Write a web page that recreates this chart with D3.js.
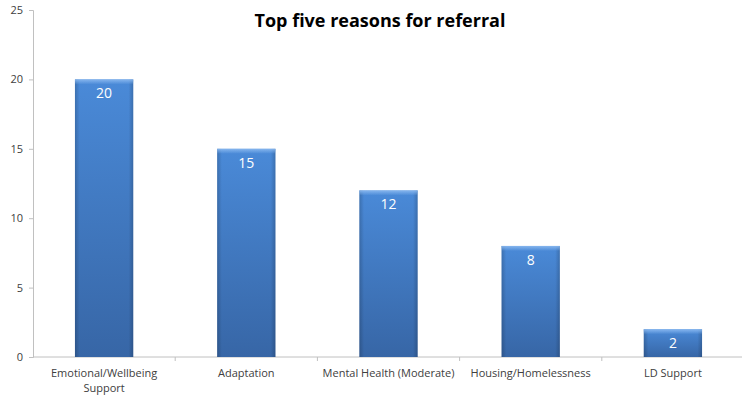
<!DOCTYPE html>
<html>
<head>
<meta charset="utf-8">
<script src="https://cdn.jsdelivr.net/npm/d3@7"></script>
<style>
  body { margin: 0; background: #fff; }
  text { font-family: "Open Sans", "Noto Sans", sans-serif; }
</style>
</head>
<body>
<div id="chart"></div>
<script>
const categories = [
  "Emotional/Wellbeing Support",
  "Adaptation",
  "Mental Health (Moderate)",
  "Housing/Homelessness",
  "LD Support"
];
const values = [20, 15, 12, 8, 2];
const yTicks = [0, 5, 10, 15, 20, 25];
const title = "Top five reasons for referral";

const width = 742, height = 396;
const margin = { top: 10, right: 0, bottom: 39, left: 33 };

const svg = d3.select("#chart").append("svg")
  .attr("width", width)
  .attr("height", height);

const defs = svg.append("defs");
const grad = defs.append("linearGradient")
  .attr("id", "barGrad").attr("x1", 0).attr("y1", 0).attr("x2", 0).attr("y2", 1);
grad.append("stop").attr("offset", "0%").attr("stop-color", "#4a8ad8");
grad.append("stop").attr("offset", "100%").attr("stop-color", "#3766a6");

const side = defs.append("linearGradient")
  .attr("id", "sideGrad").attr("x1", 0).attr("y1", 0).attr("x2", 1).attr("y2", 0);
side.append("stop").attr("offset", "0%").attr("stop-color", "#000").attr("stop-opacity", 0.18);
side.append("stop").attr("offset", "8%").attr("stop-color", "#000").attr("stop-opacity", 0);
side.append("stop").attr("offset", "92%").attr("stop-color", "#000").attr("stop-opacity", 0);
side.append("stop").attr("offset", "100%").attr("stop-color", "#000").attr("stop-opacity", 0.18);

// soft bevel on the top edge
const bevel = defs.append("linearGradient")
  .attr("id", "bevelGrad").attr("x1", 0).attr("y1", 0).attr("x2", 0).attr("y2", 1);
bevel.append("stop").attr("offset", "0%").attr("stop-color", "#8cbaf0").attr("stop-opacity", 0.9);
bevel.append("stop").attr("offset", "100%").attr("stop-color", "#8cbaf0").attr("stop-opacity", 0);

const x = d3.scaleBand()
  .domain(categories)
  .range([margin.left, 744])
  .padding(0);

const y = d3.scaleLinear()
  .domain([0, 25])
  .range([357, margin.top]);

// y axis
const yAxis = svg.append("g")
  .attr("transform", `translate(${margin.left},0)`)
  .call(d3.axisLeft(y).tickValues(yTicks).tickSize(4).tickPadding(6));
yAxis.select(".domain").attr("stroke", "#c0c0c0");
yAxis.selectAll(".tick line").attr("stroke", "#c0c0c0");
yAxis.selectAll(".tick text")
  .attr("fill", "#404040")
  .style("font-size", "11px");

// x axis baseline and category separators
const xAxis = svg.append("g")
  .attr("transform", `translate(0,${y(0)})`);
xAxis.append("line")
  .attr("x1", margin.left).attr("x2", 744)
  .attr("stroke", "#c0c0c0");
xAxis.selectAll(".sep")
  .data(categories.slice(1))
  .enter().append("line")
  .attr("x1", d => x(d)).attr("x2", d => x(d))
  .attr("y1", 0).attr("y2", 4)
  .attr("stroke", "#c0c0c0");

xAxis.selectAll(".cat")
  .data(categories)
  .enter().append("text")
  .attr("x", d => x(d) + x.bandwidth() / 2)
  .attr("y", 20)
  .attr("text-anchor", "middle")
  .attr("fill", "#404040")
  .style("font-size", "11px")
  .each(function (d) {
    const t = d3.select(this);
    if (d === "Emotional/Wellbeing Support") {
      t.append("tspan").attr("x", x(d) + x.bandwidth() / 2).text("Emotional/Wellbeing");
      t.append("tspan").attr("x", x(d) + x.bandwidth() / 2).attr("dy", 15).text("Support");
    } else {
      t.text(d);
    }
  });

// bars
const barW = x.bandwidth() * 0.41;
const bars = svg.append("g").selectAll("g")
  .data(categories.map((c, i) => ({ cat: c, value: values[i] })))
  .enter().append("g");

bars.append("rect")
  .attr("x", d => x(d.cat) + (x.bandwidth() - barW) / 2)
  .attr("y", d => y(d.value))
  .attr("width", barW)
  .attr("height", d => y(0) - y(d.value))
  .attr("fill", "url(#barGrad)");

bars.append("rect")
  .attr("x", d => x(d.cat) + (x.bandwidth() - barW) / 2)
  .attr("y", d => y(d.value))
  .attr("width", barW)
  .attr("height", d => y(0) - y(d.value))
  .attr("fill", "url(#sideGrad)");

bars.append("rect")
  .attr("x", d => x(d.cat) + (x.bandwidth() - barW) / 2)
  .attr("y", d => y(d.value))
  .attr("width", barW)
  .attr("height", 5)
  .attr("fill", "url(#bevelGrad)");

bars.append("text")
  .attr("x", d => x(d.cat) + x.bandwidth() / 2)
  .attr("y", d => y(d.value) + 19)
  .attr("text-anchor", "middle")
  .attr("fill", "#ffffff")
  .style("font-size", "14px")
  .text(d => d.value);

// title
svg.append("text")
  .attr("x", 380)
  .attr("y", 27)
  .attr("text-anchor", "middle")
  .attr("fill", "#000")
  .style("font-size", "18px")
  .style("font-weight", "bold")
  .text(title);
</script>
</body>
</html>
